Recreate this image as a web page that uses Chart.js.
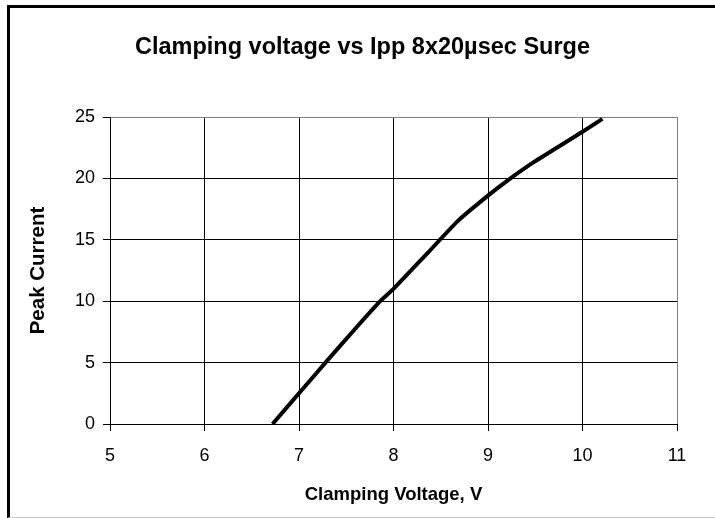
<!DOCTYPE html>
<html lang="en">
<head>
  <meta charset="UTF-8">
  <title>Clamping voltage vs Ipp 8x20µsec Surge</title>
  <script src="https://cdn.jsdelivr.net/npm/chart.js"></script>
  <style>
    body {
      margin: 0;
      padding: 0;
      background-color: #fff;
      width: 715px;
      height: 518px;
      overflow: hidden;
    }
    .frame {
      position: absolute;
      left: 7px;
      top: 5px;
      width: 705px;
      height: 509px;
      border-left: 3px solid #000;
      border-top: 3px solid #000;
      border-bottom: 1px solid #c8c8c8;
    }
    canvas {
      display: block;
    }
  </style>
</head>
<body>
  <div class="frame">
    <canvas id="surgeChart" width="705" height="509"></canvas>
  </div>

  <script>
    // Clamping voltage (V) and peak current (A)
    const clampVoltage = [6.72, 7.0, 7.28, 7.6, 7.86, 8.0, 8.37, 8.69, 9.0, 9.22, 9.48, 10.0, 10.21];
    const peakCurrent  = [0, 2.5, 5.0, 7.8, 10.0, 11.0, 14.0, 16.6, 18.6, 19.9, 21.3, 23.8, 24.85];

    const xTicks = [5, 6, 7, 8, 9, 10, 11];
    const yTicks = [0, 5, 10, 15, 20, 25];

    const FONT = '"Liberation Sans", Arial, sans-serif';

    const points = clampVoltage.map((v, i) => ({ x: v, y: peakCurrent[i] }));

    new Chart(document.getElementById('surgeChart').getContext('2d'), {
      type: 'scatter',
      data: {
        datasets: [{
          data: points,
          showLine: true,
          borderColor: '#000',
          borderWidth: 4,
          pointRadius: 0,
          tension: 0.2,
          fill: false
        }]
      },
      options: {
        responsive: false,
        animation: false,
        devicePixelRatio: 1,
        layout: { padding: 0 },
        plugins: {
          legend: { display: false },
          tooltip: { enabled: false },
          title: {
            display: true,
            text: 'Clamping voltage vs Ipp 8x20µsec Surge',
            color: '#000',
            font: { family: FONT, size: 23.5, weight: 'bold' },
            padding: { top: 25, bottom: 55.8 }
          }
        },
        scales: {
          x: {
            type: 'linear',
            min: xTicks[0],
            max: xTicks[xTicks.length - 1],
            afterBuildTicks: (axis) => { axis.ticks = xTicks.map(v => ({ value: v })); },
            afterFit: (axis) => { axis.height = 93; },
            grid: {
              color: (ctx) => ctx.tick && ctx.tick.value === 11 ? '#808080' : '#000',
              tickColor: '#000',
              tickLength: 7,
              lineWidth: 1
            },
            border: { color: '#000', width: 1 },
            ticks: {
              color: '#000',
              padding: 14.5,
              font: { family: FONT, size: 18 }
            },
            title: {
              display: true,
              text: 'Clamping Voltage, V',
              color: '#000',
              font: { family: FONT, size: 18.5, weight: 'bold' },
              padding: { top: 0, bottom: 11 }
            }
          },
          y: {
            type: 'linear',
            min: yTicks[0],
            max: yTicks[yTicks.length - 1],
            afterBuildTicks: (axis) => { axis.ticks = yTicks.map(v => ({ value: v })); },
            afterFit: (axis) => { axis.width = 100; },
            grid: {
              color: (ctx) => ctx.tick && ctx.tick.value === 25 ? '#808080' : '#000',
              tickColor: '#000',
              tickLength: 7,
              lineWidth: 1
            },
            border: { color: '#000', width: 1 },
            ticks: {
              color: '#000',
              padding: 8,
              font: { family: FONT, size: 18 }
            },
            title: {
              display: true,
              text: 'Peak Current',
              color: '#000',
              font: { family: FONT, size: 20.5, weight: 'bold' },
              padding: { top: 16, bottom: 0 }
            }
          },
          // empty right-hand axis: keeps the plot clear of the right edge
          // while the title still centres on the whole canvas
          yRight: {
            type: 'linear',
            position: 'right',
            display: true,
            afterFit: (axis) => { axis.width = 38; },
            grid: { display: false, drawTicks: false },
            border: { display: false },
            ticks: { display: false }
          }
        }
      }
    });
  </script>
</body>
</html>
